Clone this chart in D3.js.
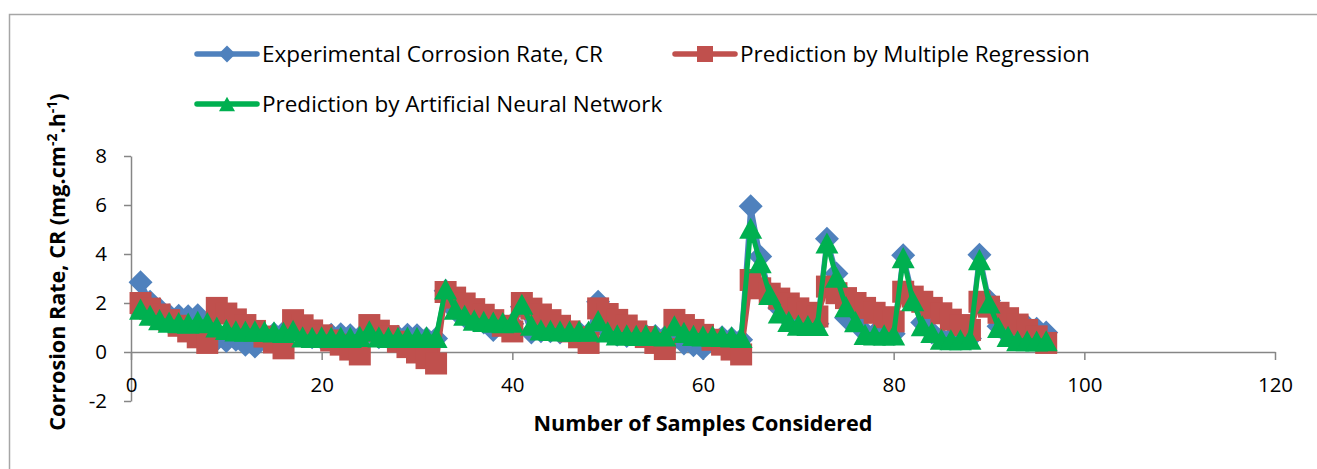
<!DOCTYPE html>
<html>
<head>
<meta charset="utf-8">
<script src="https://cdnjs.cloudflare.com/ajax/libs/d3/7.8.5/d3.min.js"></script>
<style>
  body { margin: 0; background: #fff; }
  svg { display: block; font-family: "Open Sans", sans-serif; }
  .axis path, .axis line { stroke: #868686; stroke-width: 1.5; }
  .axis text { font-size: 20.5px; fill: #000; font-family: "Open Sans", sans-serif; }
</style>
</head>
<body>
<script>
// sample number (x)
var samples = [1,2,3,4,5,6,7,8,9,10,11,12,13,14,15,16,17,18,19,20,21,22,23,24,
  25,26,27,28,29,30,31,32,33,34,35,36,37,38,39,40,41,42,43,44,45,46,47,48,
  49,50,51,52,53,54,55,56,57,58,59,60,61,62,63,64,65,66,67,68,69,70,71,72,
  73,74,75,76,77,78,79,80,81,82,83,84,85,86,87,88,89,90,91,92,93,94,95,96];

// Experimental Corrosion Rate, CR
var experimental = [2.85,2.05,1.75,1.50,1.48,1.46,1.50,1.10,
  0.50,0.45,0.50,0.30,0.22,0.70,0.75,0.80,
  0.90,0.65,0.60,0.55,0.70,0.72,0.68,0.60,
  0.85,0.60,0.58,0.62,0.70,0.68,0.55,0.55,
  2.50,1.70,1.45,1.30,1.20,0.90,1.10,1.15,
  1.85,0.80,0.85,0.85,0.80,0.85,0.80,0.75,
  2.05,0.85,0.70,0.65,0.70,0.68,0.65,0.60,
  0.55,0.35,0.28,0.15,0.55,0.60,0.55,0.50,
  5.95,3.90,2.40,1.80,1.35,1.20,1.20,1.15,
  4.62,3.20,1.40,1.25,0.80,0.75,0.75,0.75,
  3.95,2.30,1.20,0.80,0.55,0.55,0.55,0.55,
  3.97,2.10,1.05,0.70,0.60,1.05,0.95,0.80];

// Prediction by Multiple Regression
var regression = [2.00,1.77,1.53,1.30,1.07,0.84,0.60,0.37,
  1.80,1.57,1.33,1.10,0.86,0.63,0.39,0.15,
  1.30,1.09,0.88,0.68,0.47,0.30,0.10,-0.10,
  1.10,0.87,0.65,0.42,0.20,-0.02,-0.25,-0.47,
  2.45,2.22,1.98,1.75,1.52,1.30,1.07,0.84,
  2.00,1.77,1.53,1.30,1.07,0.84,0.60,0.37,
  1.78,1.55,1.31,1.08,0.84,0.61,0.37,0.12,
  1.31,1.10,0.90,0.70,0.50,0.30,0.10,-0.10,
  2.94,2.60,2.38,2.18,1.98,1.78,1.60,1.45,
  2.67,2.40,2.20,2.00,1.80,1.60,1.42,1.25,
  2.46,2.26,2.05,1.80,1.58,1.32,1.10,0.90,
  2.05,1.85,1.60,1.38,1.12,0.90,0.64,0.37];

// Prediction by Artificial Neural Network
var ann = [1.75,1.50,1.32,1.22,1.20,1.18,1.25,1.20,
  1.02,0.92,0.86,0.85,0.86,0.84,0.82,0.80,
  0.88,0.62,0.60,0.62,0.60,0.61,0.60,0.64,
  0.86,0.62,0.60,0.60,0.61,0.60,0.62,0.60,
  2.57,1.75,1.50,1.30,1.25,1.22,1.20,1.22,
  1.95,1.10,0.90,0.88,0.86,0.85,0.86,0.85,
  1.28,0.82,0.70,0.70,0.68,0.70,0.68,0.66,
  1.07,0.80,0.68,0.66,0.65,0.64,0.62,0.60,
  5.05,3.65,2.35,1.60,1.25,1.10,1.08,1.08,
  4.45,3.05,1.85,1.24,0.72,0.70,0.70,0.70,
  3.85,2.10,1.07,0.80,0.52,0.50,0.50,0.52,
  3.77,2.00,1.00,0.64,0.46,0.46,0.45,0.46];

var xTicks = [0, 20, 40, 60, 80, 100, 120];
var yTicks = [-2, 0, 2, 4, 6, 8];

var svgWidth = 1317;
var svgHeight = 469;

var svg = d3.select("body")
            .append("svg")
            .attr("width", svgWidth)
            .attr("height", svgHeight);

svg.append("rect")
   .attr("width", svgWidth)
   .attr("height", svgHeight)
   .attr("fill", "#fff");

// chart border (only top and left edges show in the crop)
svg.append("path")
   .attr("d", "M9.5," + svgHeight + "V14.5H" + svgWidth)
   .attr("fill", "none")
   .attr("stroke", "#a6a6a6")
   .attr("stroke-width", 1.5);

var xScale = d3.scaleLinear()
               .domain([0, 120])
               .range([131, 1275]);

var yScale = d3.scaleLinear()
               .domain([-2, 8])
               .range([401, 156]);

// axes (hyphen minus like the original, not the unicode minus)
var yAxis = d3.axisLeft(yScale)
              .tickValues(yTicks)
              .tickFormat((d) => String(d))
              .tickSize(7)
              .tickSizeOuter(0)
              .tickPadding(17);

svg.append("g")
   .attr("class", "axis")
   .attr("transform", "translate(" + xScale(0) + ",0)")
   .call(yAxis);

var xAxis = d3.axisBottom(xScale)
              .tickValues(xTicks)
              .tickFormat((d) => String(d))
              .tickSize(8)
              .tickSizeOuter(0)
              .tickPadding(17);

svg.append("g")
   .attr("class", "axis")
   .attr("transform", "translate(0," + yScale(0) + ")")
   .call(xAxis);

// marker shapes
function marker(type, s) {
  if (type === "diamond") return "M0," + (-s) + "L" + s + ",0L0," + s + "L" + (-s) + ",0Z";
  if (type === "square") return "M" + (-s) + "," + (-s) + "H" + s + "V" + s + "H" + (-s) + "Z";
  return "M0," + (-s * 0.92) + "L" + s + "," + (s * 0.92) + "L" + (-s) + "," + (s * 0.92) + "Z";
}

var series = [
  { name: "Experimental Corrosion Rate, CR", values: experimental, color: "#4F81BD", shape: "diamond", size: 12, lx: 197, ly: 54 },
  { name: "Prediction by Multiple Regression", values: regression, color: "#C0504D", shape: "square", size: 11, lx: 675, ly: 54 },
  { name: "Prediction by Artificial Neural Network", values: ann, color: "#00B050", shape: "triangle", size: 11.5, lx: 197, ly: 104 }
];

var line = d3.line()
             .x((d) => xScale(d[0]))
             .y((d) => yScale(d[1]));

series.forEach(function(s) {
  var pts = samples.map((x, i) => [x, s.values[i]]);
  var g = svg.append("g");

  g.append("path")
   .attr("d", line(pts))
   .attr("fill", "none")
   .attr("stroke", s.color)
   .attr("stroke-width", 5)
   .attr("stroke-linejoin", "round")
   .attr("stroke-linecap", "round");

  g.selectAll(".pt")
   .data(pts)
   .enter()
   .append("path")
   .attr("class", "pt")
   .attr("d", marker(s.shape, s.size))
   .attr("transform", (d) => "translate(" + xScale(d[0]) + "," + yScale(d[1]) + ")")
   .attr("fill", s.color);

  // legend entry
  var lg = svg.append("g")
              .attr("transform", "translate(" + s.lx + "," + s.ly + ")");
  lg.append("line")
    .attr("x1", 0).attr("x2", 60)
    .attr("stroke", s.color)
    .attr("stroke-width", 5.5)
    .attr("stroke-linecap", "round");
  lg.append("path")
    .attr("d", marker(s.shape, s.shape === "diamond" ? 8.5 : 8))
    .attr("transform", "translate(30,0)")
    .attr("fill", s.color);
  lg.append("text")
    .attr("x", 65)
    .attr("y", 8)
    .attr("font-size", 22.5)
    .text(s.name);
});

// axis titles
svg.append("text")
   .attr("x", 703)
   .attr("y", 431)
   .attr("text-anchor", "middle")
   .attr("font-size", 21.6)
   .attr("font-weight", "bold")
   .text("Number of Samples Considered");

var yTitle = svg.append("text")
   .attr("transform", "translate(65,262) rotate(-90)")
   .attr("text-anchor", "middle")
   .attr("font-size", 21.6)
   .attr("font-weight", "bold");
yTitle.append("tspan").text("Corrosion Rate, CR (mg.cm");
yTitle.append("tspan").attr("dy", -8).attr("font-size", 14).text("-2");
yTitle.append("tspan").attr("dy", 8).text(".h");
yTitle.append("tspan").attr("dy", -8).attr("font-size", 14).text("-1");
yTitle.append("tspan").attr("dy", 8).text(")");
</script>
</body>
</html>
